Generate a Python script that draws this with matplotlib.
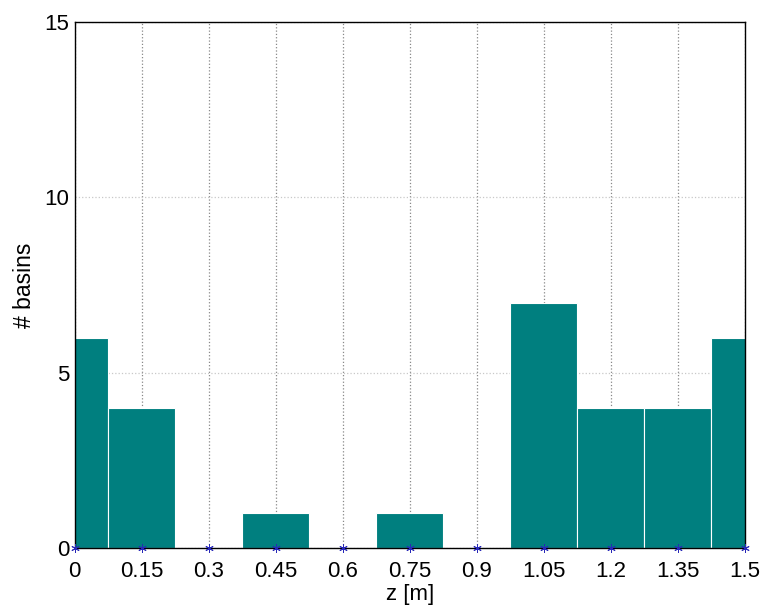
import matplotlib
matplotlib.use('Agg')
import matplotlib.pyplot as plt
import numpy as np

plt.rcParams['font.family'] = ['Liberation Sans', 'DejaVu Sans']

# bin centres and counts of basins per depth class
centers = [0, 0.15, 0.3, 0.45, 0.6, 0.75, 0.9, 1.05, 1.2, 1.35, 1.5]
counts = [6, 4, 0, 1, 0, 1, 0, 7, 4, 4, 6]
tick_labels = ['0', '0.15', '0.3', '0.45', '0.6', '0.75', '0.9', '1.05', '1.2', '1.35', '1.5']
width = 0.15

fig = plt.figure(figsize=(7.63, 6.1), dpi=100)
ax = fig.add_axes([0.098, 0.1016, 0.878, 0.8624])

ax.bar(centers, counts, width=width, color='#007f7f', edgecolor='white',
       linewidth=0.8, zorder=2)
# asterisk markers at the bin centres
ax.plot(centers, np.zeros(len(centers)), linestyle='none', marker=(6, 2, 0),
        color='#2828b8', markersize=6, markeredgewidth=0.7, zorder=3, clip_on=False)

ax.set_xlim(0, 1.5)
ax.set_ylim(0, 15)
ax.set_xticks(centers)
ax.set_xticklabels(tick_labels)
ax.set_yticks([0, 5, 10, 15])
ax.xaxis.grid(True, linestyle=':', color='#888888', linewidth=0.9, zorder=0)
ax.yaxis.grid(True, linestyle=':', color='#c8c8c8', linewidth=0.9, zorder=0)
ax.set_axisbelow(True)
ax.tick_params(direction='in', length=0, labelsize=16)
ax.tick_params(axis='x', pad=9)
ax.tick_params(axis='y', pad=4)
for s in ax.spines.values():
    s.set_linewidth(1.0)
    s.set_color('black')

ax.set_xlabel('z [m]', fontsize=16, labelpad=2)
ax.set_ylabel('# basins', fontsize=16.5, labelpad=6)

fig.savefig('out.png', dpi=100)
